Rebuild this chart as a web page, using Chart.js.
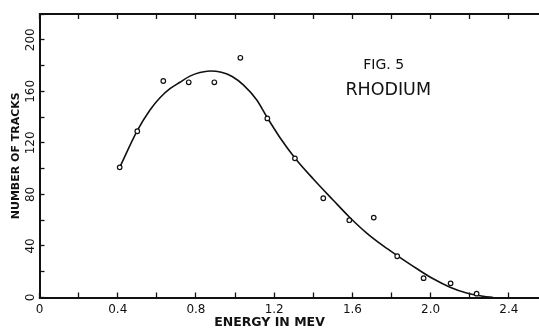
<!DOCTYPE html>
<html>
<head>
<meta charset="utf-8">
<script src="https://cdn.jsdelivr.net/npm/chart.js@4.4.1/dist/chart.umd.min.js"></script>
<style>
  html, body { margin: 0; padding: 0; background: #fff; }
</style>
</head>
<body>
<canvas id="chart" width="539" height="329"></canvas>
<script>
// measured points (energy in MeV, number of tracks)
const energy = [0.41, 0.50, 0.633, 0.763, 0.894, 1.027, 1.165, 1.306, 1.451, 1.584, 1.709, 1.829, 1.964, 2.102, 2.235];
const tracks = [101, 129, 168, 167, 167, 186, 139, 108, 77, 60, 62, 32, 15, 11, 3];

// hand-drawn fitted curve
const curveEnergy = [0.41, 0.50, 0.565, 0.616, 0.667, 0.718, 0.769, 0.82, 0.872, 0.93, 0.985, 1.042, 1.11, 1.165, 1.23, 1.31, 1.40, 1.502, 1.584, 1.673, 1.758, 1.829, 1.928, 2.013, 2.099, 2.184, 2.269, 2.32];
const curveTracks = [101, 129.5, 145.5, 155, 162, 167, 171.8, 174.6, 175.8, 174.8, 171.5, 165, 153.5, 139.5, 124, 107.5, 92, 75.5, 62.5, 50, 40, 32.5, 22.5, 14.5, 8, 3.5, 1, 0];

const xLabelTicks = [0, 0.4, 0.8, 1.2, 1.6, 2.0, 2.4];
const yLabelTicks = [0, 40, 80, 120, 160, 200];

const figTitle = 'FIG. 5';
const elementName = 'RHODIUM';

const ink = '#111';
Chart.defaults.font.family = '"DejaVu Sans", sans-serif';
Chart.defaults.color = ink;

const hasTick = (list, v) => list.some(t => Math.abs(t - v) < 1e-6);

const figLabels = {
    id: 'figLabels',
    afterDatasetsDraw(chart) {
        const {ctx, scales: {x, y}} = chart;
        ctx.save();
        ctx.fillStyle = ink;
        ctx.textAlign = 'center';
        ctx.textBaseline = 'middle';
        ctx.font = '14px "DejaVu Sans"';
        ctx.fillText(figTitle, x.getPixelForValue(1.76), y.getPixelForValue(180.5));
        ctx.font = '17.5px "DejaVu Sans"';
        ctx.fillText(elementName, x.getPixelForValue(1.783), y.getPixelForValue(161));
        ctx.restore();
    }
};

const axisGrid = {
    drawOnChartArea: false,
    color: ink,
    tickLength: -5,
    tickWidth: 1.3
};
const axisBorder = {color: ink, width: 2};

new Chart(document.getElementById('chart'), {
    type: 'scatter',
    data: {
        datasets: [
            {
                data: energy.map((e, i) => ({x: e, y: tracks[i]})),
                pointStyle: 'circle',
                pointRadius: 2.3,
                pointBorderWidth: 1.2,
                pointBackgroundColor: '#fff',
                pointBorderColor: ink,
                order: 0
            },
            {
                data: curveEnergy.map((e, i) => ({x: e, y: curveTracks[i]})),
                showLine: true,
                borderColor: ink,
                borderWidth: 1.6,
                pointRadius: 0,
                cubicInterpolationMode: 'monotone',
                order: 1
            }
        ]
    },
    options: {
        responsive: false,
        animation: false,
        layout: {padding: 0, autoPadding: false},
        plugins: {
            legend: {display: false},
            tooltip: {enabled: false},
            title: {
                display: true,
                position: 'bottom',
                text: 'ENERGY IN MEV',
                color: ink,
                font: {size: 12.5, weight: 'bold', lineHeight: 1},
                padding: 0
            }
        },
        scales: {
            x: {
                type: 'linear',
                position: 'bottom',
                min: 0,
                max: 2.554,
                grid: axisGrid,
                border: axisBorder,
                ticks: {
                    stepSize: 0.2,
                    includeBounds: false,
                    autoSkip: false,
                    maxRotation: 0,
                    padding: 10.5,
                    font: {size: 12},
                    color: ink,
                    callback: v => hasTick(xLabelTicks, v) ? (v === 0 ? '0' : v.toFixed(1)) : ''
                },
                afterFit: s => { s.height = 19; }
            },
            xTop: {
                type: 'linear',
                position: 'top',
                min: 0,
                max: 2.554,
                grid: axisGrid,
                border: axisBorder,
                ticks: {stepSize: 0.2, includeBounds: false, display: false},
                afterFit: s => { s.height = 14; }
            },
            y: {
                type: 'linear',
                min: 0,
                max: 220,
                grid: axisGrid,
                border: axisBorder,
                title: {
                    display: true,
                    text: 'NUMBER OF TRACKS',
                    color: ink,
                    font: {size: 11, weight: 'bold'},
                    padding: {top: 10, bottom: 0}
                },
                ticks: {
                    stepSize: 20,
                    autoSkip: false,
                    minRotation: 90,
                    maxRotation: 90,
                    crossAlign: 'center',
                    padding: 2,
                    font: {size: 12},
                    color: ink,
                    callback: v => hasTick(yLabelTicks, v) ? String(v) : ''
                },
                afterFit: s => { s.width = 39.5; }
            }
        }
    },
    plugins: [figLabels]
});
</script>
</body>
</html>
